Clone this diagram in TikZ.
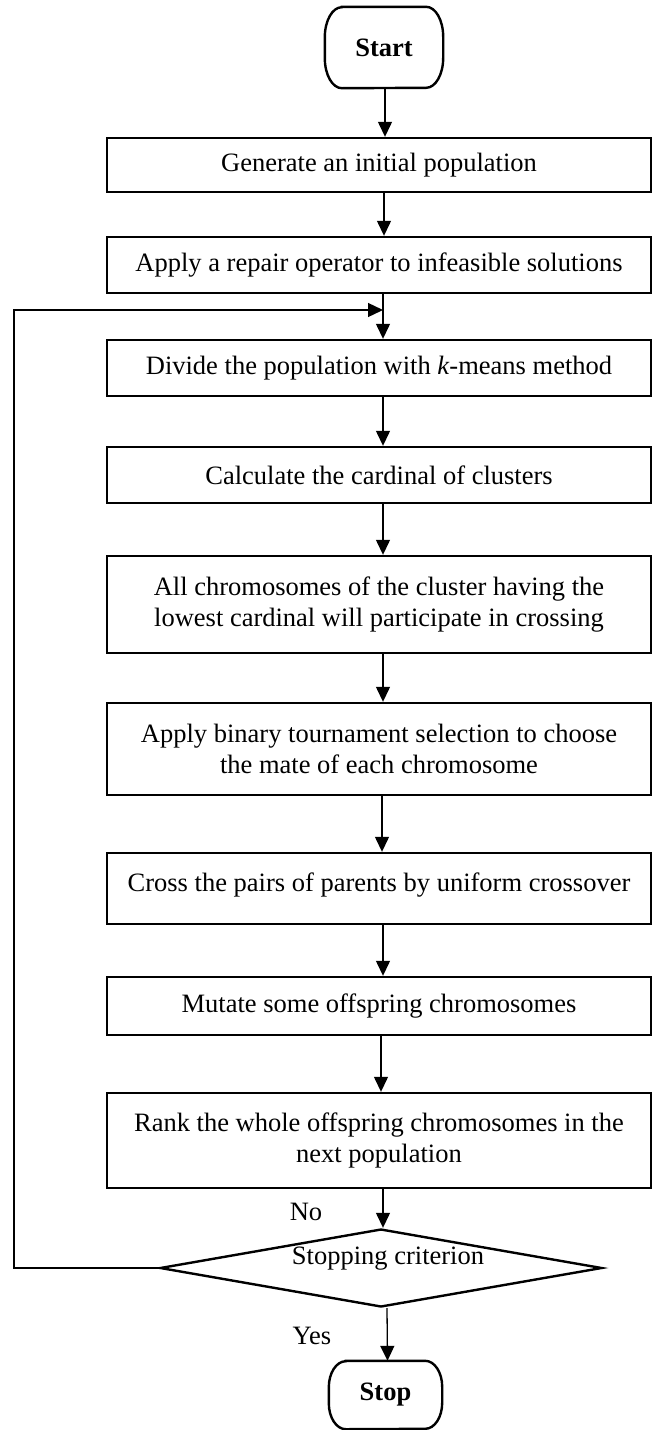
\documentclass[tikz,border=0pt]{standalone}
\usepackage{fontspec}
\setmainfont{Liberation Serif}
\usetikzlibrary{arrows.meta,shapes.geometric}
\begin{document}
\begin{tikzpicture}[x=1pt,y=-1pt,
  txt/.style={font=\fontsize{26.5}{31}\selectfont},
  box/.style={txt,draw,line width=2.4pt,minimum width=544pt,inner sep=0pt,align=center},
  term/.style={txt,font=\fontsize{26.5}{31}\selectfont\bfseries,inner sep=0pt},
  conn/.style={line width=1.3pt,-{Triangle[length=15pt,width=14pt]}},
  lbl/.style={txt,inner sep=0pt}
]
\useasboundingbox (0,0) rectangle (653,1430);

% terminals
\node[term,minimum width=118pt,minimum height=81pt] (start) at (384,47.5) {Start};
\draw[line width=2.4pt] (start.north west) ++(17,0) -- ([xshift=-17pt]start.north east)
  arc[start angle=90,end angle=0,x radius=17,y radius=-30] -- ++(0,21)
  arc[start angle=0,end angle=-90,x radius=17,y radius=-30] -- ([xshift=17pt]start.south west)
  arc[start angle=270,end angle=180,x radius=17,y radius=-30] -- ++(0,-21)
  arc[start angle=180,end angle=90,x radius=17,y radius=-30] -- cycle;

\node[term,minimum width=113pt,minimum height=68pt] (stop) at (385.5,1395) {Stop};
\draw[line width=2.4pt] (stop.north west) ++(17,0) -- ([xshift=-17pt]stop.north east)
  arc[start angle=90,end angle=0,x radius=17,y radius=-26] -- ++(0,16)
  arc[start angle=0,end angle=-90,x radius=17,y radius=-26] -- ([xshift=17pt]stop.south west)
  arc[start angle=270,end angle=180,x radius=17,y radius=-26] -- ++(0,-16)
  arc[start angle=180,end angle=90,x radius=17,y radius=-26] -- cycle;

% process boxes
\node[box,minimum height=54pt] (b1) at (379,165) {Generate an initial population};
\node[box,minimum height=56pt] (b2) at (379,265) {Apply a repair operator to infeasible solutions};
\node[box,minimum height=56pt] (b3) at (379,368) {Divide the population with \textit{k}-means method};
\node[box,minimum height=56pt] (b4) at (379,475) {Calculate the cardinal of clusters};
\node[box,minimum height=97pt] (b5) at (379,604.5) {All chromosomes of the cluster having the\\lowest cardinal will participate in crossing};
\node[box,minimum height=92pt] (b6) at (379,749) {Apply binary tournament selection to choose\\the mate of each chromosome};
\node[box,minimum height=71pt,text depth=12pt] (b7) at (379,888.5) {Cross the pairs of parents by uniform crossover};
\node[box,minimum height=58pt] (b8) at (379,1006) {Mutate some offspring chromosomes};
\node[box,minimum height=95pt] (b9) at (379,1140.5) {Rank the whole offspring chromosomes in the\\next population};

% decision
\node[draw,diamond,line width=2.4pt,minimum width=442pt,minimum height=78pt,inner sep=0pt] (dec) at (381,1268) {};
\node[lbl] (crit) at (388,1259) {Stopping criterion};
\node[lbl] (no) at (306,1212) {No};
\node[lbl] (yes) at (312,1336) {Yes};

% connectors
\draw[conn] ([xshift=1pt]start.south) -- ([xshift=6pt]b1.north);
\draw[conn] ([xshift=5pt]b1.south) -- ([xshift=5pt]b2.north);
\draw[conn] ([xshift=4pt]b2.south) -- ([xshift=4pt]b3.north);
\coordinate (join) at (383,310);
\draw[conn] ([xshift=4pt]b3.south) -- ([xshift=4pt]b4.north);
\draw[conn] ([xshift=4pt]b4.south) -- ([xshift=4pt]b5.north);
\draw[conn] ([xshift=4pt]b5.south) -- ([xshift=4pt]b6.north);
\draw[conn] ([xshift=3pt]b6.south) -- ([xshift=3pt]b7.north);
\draw[conn] ([xshift=4pt]b7.south) -- ([xshift=4pt]b8.north);
\draw[conn] ([xshift=2pt]b8.south) -- ([xshift=2pt]b9.north);
\draw[conn] ([xshift=4pt]b9.south) -- ([xshift=2pt]dec.north);
\draw[conn] ([xshift=6pt]dec.south) -- ([xshift=2pt]stop.north);
\draw[line width=1.3pt,-{Triangle[length=15pt,width=14pt]}] (dec.west) -- (14,1268) -- (14,310) -- (join);
\end{tikzpicture}
\end{document}
